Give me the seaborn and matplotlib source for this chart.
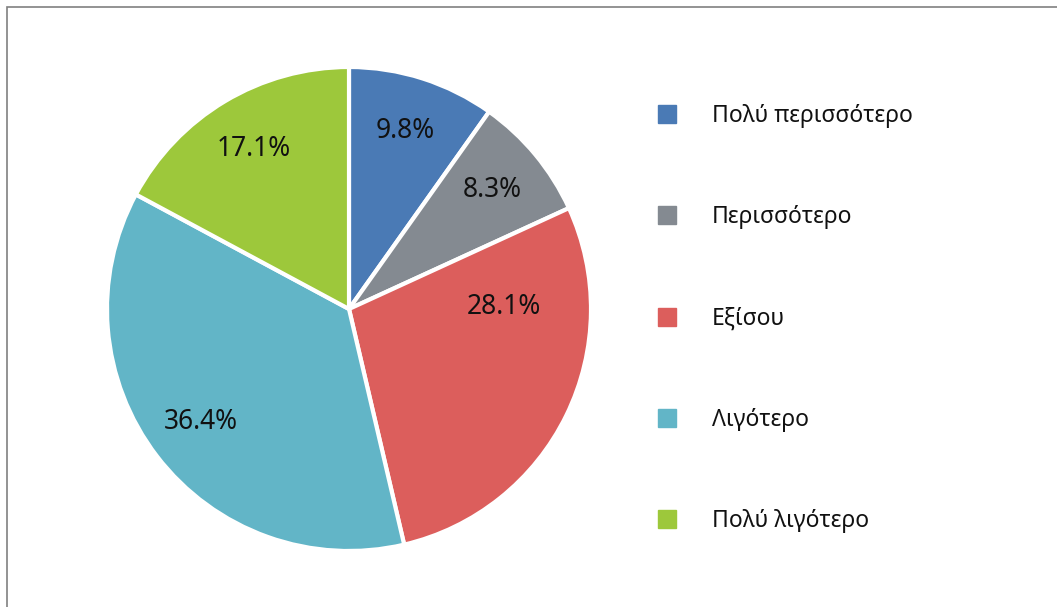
import numpy as np
import matplotlib
matplotlib.use("Agg")
import matplotlib.pyplot as plt
import seaborn as sns
from matplotlib.lines import Line2D
from matplotlib.patches import Rectangle

# data
categories = ["Πολύ περισσότερο", "Περισσότερο", "Εξίσου", "Λιγότερο", "Πολύ λιγότερο"]
shares = [9.8, 8.3, 28.1, 36.4, 17.1]
colors = ["#4A7AB5", "#848A91", "#DC5E5C", "#62B5C7", "#9DC83B"]

sns.set_theme(style="white")
plt.rcParams["font.family"] = ["Noto Sans", "DejaVu Sans"]

W, H = 1057, 607
fig = plt.figure(figsize=(W / 100, H / 100), dpi=100)
fig.patch.set_facecolor("white")

# pie centre (349, 309) px, radius 242 px
cx, cy, r = 349, 309, 242
ax = fig.add_axes([(cx - r) / W, (H - cy - r) / H, 2 * r / W, 2 * r / H])

palette = sns.color_palette(colors)
wedges, texts, autotexts = ax.pie(
    shares, colors=palette, startangle=90, counterclock=False,
    autopct="%.1f%%", pctdistance=0.77,
    wedgeprops=dict(edgecolor="white", linewidth=3),
    textprops=dict(fontsize=19, color="#111111"),
)
# show the published values, not the renormalised ones
for t, v in zip(autotexts, shares):
    t.set_text(f"{v:.1f}%")
ax.set_xlim(-1, 1)
ax.set_ylim(-1, 1)
ax.set_aspect("equal")

# Excel places the big "Εξίσου" label nearer the middle
x, y = autotexts[2].get_position()
ang = np.arctan2(y, x) + np.deg2rad(27)
autotexts[2].set_position((0.64 * np.cos(ang), 0.64 * np.sin(ang)))

handles = [Line2D([], [], marker="s", linestyle="", markersize=13,
                  color=c) for c in palette]
fig.legend(handles, categories, loc="upper left",
           bbox_to_anchor=(635 / W, 1 - 83 / H), frameon=False,
           fontsize=16.5, labelspacing=3.38, handletextpad=1.45,
           handlelength=1.0, labelcolor="#111111")

# thin grey frame, clipped by the right and bottom edges
fig.patches.append(Rectangle((7 / W, -0.05), 1.1, (H - 7) / H + 0.05,
                             transform=fig.transFigure, fill=False,
                             edgecolor="#808080", linewidth=1.2))

fig.savefig("out.png", dpi=100)
